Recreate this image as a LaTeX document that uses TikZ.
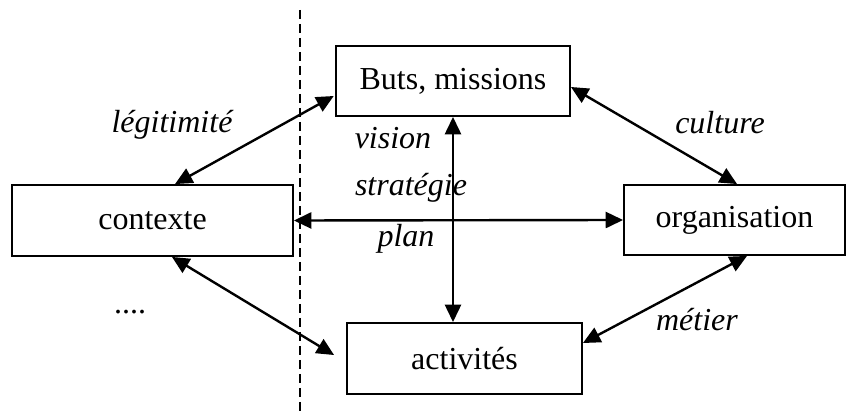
\documentclass[tikz,border=0pt]{standalone}
\usepackage{fontspec}
\setmainfont{Liberation Serif}
\usetikzlibrary{arrows.meta}
\begin{document}
\begin{tikzpicture}[x=0.75pt,y=-0.75pt,
  box/.style={draw,line width=1.4pt,inner sep=0pt,font=\fontsize{24}{28}\selectfont},
  lbl/.style={inner sep=0pt,font=\fontsize{24}{28}\selectfont\itshape},
  link/.style={line width=1.8pt,{Triangle[length=13pt,width=12pt]}-{Triangle[length=13pt,width=12pt]}},
  sep/.style={line width=1.3pt,dash pattern=on 7pt off 3.5pt}]
\useasboundingbox (0,0) rectangle (847,416);
\node[box,minimum width=175.5pt,minimum height=52.5pt] (buts) at (453,81) {Buts, missions};
\node[box,minimum width=210.75pt,minimum height=53.25pt] (ctx) at (152.5,220.5) {contexte};
\node[box,minimum width=165.75pt,minimum height=52.5pt] (org) at (734.5,220) {organisation};
\node[box,minimum width=176.25pt,minimum height=53.25pt] (act) at (464.5,358.5) {activités};
\coordinate (septop) at (300,10);
\coordinate (sepbot) at (300,416);
\draw[sep] (septop) -- (sepbot);
\draw[link] ([xshift=16.9pt]ctx.north) -- ([xshift=-1pt,yshift=-11.25pt]buts.west);
\draw[link] ([yshift=-4.5pt]buts.east) -- ([xshift=1.9pt]org.north);
\draw[link] ([xshift=14.6pt]ctx.south) -- ([xshift=-9pt,yshift=2.6pt]act.west);
\draw[link] ([xshift=9.4pt]org.south) -- ([yshift=11.6pt]act.east);
\draw[link] (buts.south) -- (buts.south |- act.north);
\draw[link] (ctx.east) -- (org.west);
\node[lbl] (legit) at (172,125) {légitimité};
\node[lbl] (vision) at (393,138) {vision};
\node[lbl] (strat) at (411,188) {stratégie};
\node[lbl] (plan) at (406,239) {plan};
\node[lbl] (cult) at (720,123) {culture};
\node[lbl] (metier) at (697,320) {métier};
\node[inner sep=0pt,font=\fontsize{24}{28}\selectfont] (dots) at (130,312) {....};
\end{tikzpicture}
\end{document}
